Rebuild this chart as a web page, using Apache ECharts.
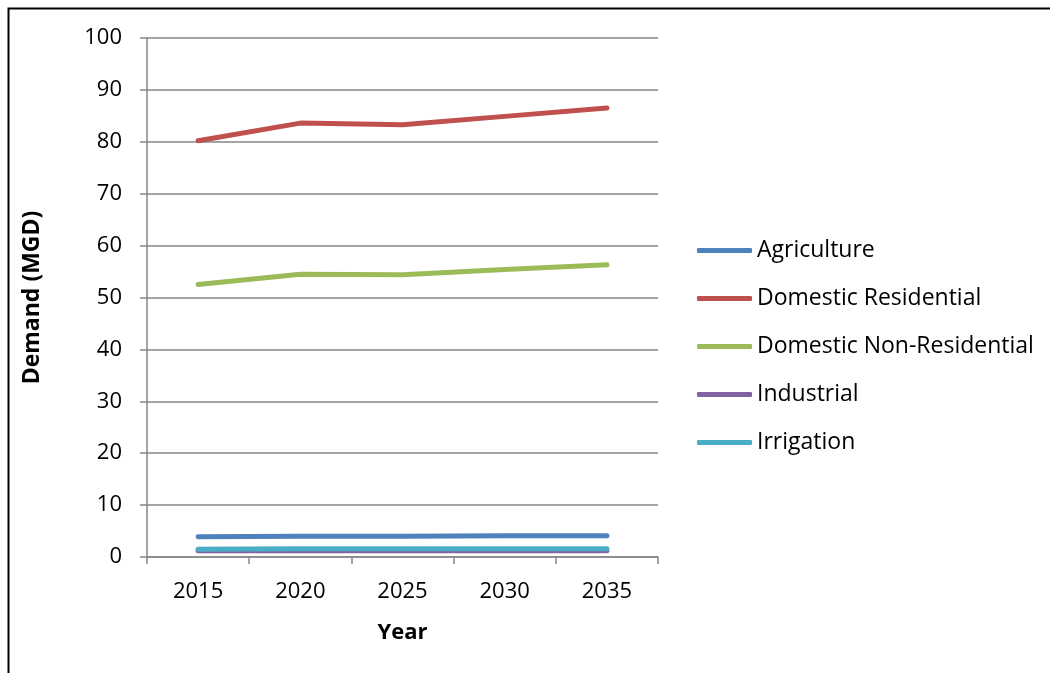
<!DOCTYPE html>
<html>
<head>
<meta charset="utf-8">
<script src="https://cdn.jsdelivr.net/npm/echarts@6/dist/echarts.min.js"></script>
<style>
  html, body { margin: 0; padding: 0; background: #fff; }
  #chart { width: 1050px; height: 673px; }
</style>
</head>
<body>
<div id="chart"></div>
<script>
// Projected water demand by sector (million gallons per day)
const years = ['2015', '2020', '2025', '2030', '2035'];
const agriculture = [3.9, 4.0, 4.0, 4.1, 4.1];
const domesticResidential = [80.2, 83.6, 83.3, 84.9, 86.5];
const domesticNonResidential = [52.5, 54.5, 54.4, 55.4, 56.3];
const industrial = [1.2, 1.2, 1.2, 1.2, 1.2];
const irrigation = [1.5, 1.6, 1.6, 1.6, 1.6];

const seriesNames = ['Agriculture', 'Domestic Residential', 'Domestic Non-Residential', 'Industrial', 'Irrigation'];
const seriesColors = ['#4F81BD', '#C0504D', '#9BBB59', '#8064A2', '#4BACC6'];
const seriesData = [agriculture, domesticResidential, domesticNonResidential, industrial, irrigation];

const font = '"Open Sans", Lato, sans-serif';
const gray = '#868686';

const chart = echarts.init(document.getElementById('chart'), null, { renderer: 'canvas' });

chart.setOption({
  animation: false,
  backgroundColor: '#ffffff',
  textStyle: { fontFamily: font },
  graphic: [{
    type: 'rect',
    shape: { x: 8.5, y: 8.5, width: 1100, height: 700 },
    style: { fill: 'none', stroke: '#000', lineWidth: 2 },
    silent: true
  }],
  grid: { left: 147, right: 392, top: 38, bottom: 116 },
  legend: {
    orient: 'vertical',
    left: 697,
    top: 239,
    padding: 0,
    itemWidth: 55,
    itemHeight: 5,
    itemGap: 25,
    icon: 'roundRect',
    textStyle: { fontFamily: font, fontSize: 23, color: '#000' },
    data: seriesNames
  },
  xAxis: {
    type: 'category',
    data: years,
    boundaryGap: true,
    name: 'Year',
    nameLocation: 'middle',
    nameGap: 65,
    nameTextStyle: { fontFamily: font, fontSize: 22, fontWeight: 'bold', color: '#000' },
    axisLine: { lineStyle: { color: gray, width: 1.5 } },
    axisTick: { show: true, length: 7, alignWithLabel: false, lineStyle: { color: gray, width: 1.5 } },
    axisLabel: { fontFamily: font, fontSize: 22, color: '#000', margin: 24 },
    splitLine: { show: false }
  },
  yAxis: {
    type: 'value',
    min: 0,
    max: 100,
    interval: 10,
    name: 'Demand (MGD)',
    nameLocation: 'middle',
    nameGap: 103,
    nameRotate: 90,
    nameTextStyle: { fontFamily: font, fontSize: 23, fontWeight: 'bold', color: '#000' },
    axisLine: { show: true, lineStyle: { color: gray, width: 1.5 } },
    axisTick: { show: true, length: 7, lineStyle: { color: gray, width: 1.5 } },
    axisLabel: { fontFamily: font, fontSize: 22, color: '#000', margin: 25 },
    splitLine: { show: true, lineStyle: { color: gray, width: 1.5 } }
  },
  series: seriesNames.map((name, i) => ({
    name: name,
    type: 'line',
    data: seriesData[i],
    symbol: 'none',
    color: seriesColors[i],
    lineStyle: { width: 5, color: seriesColors[i], cap: 'round', join: 'round' },
    z: 2 + i
  }))
});
</script>
</body>
</html>
